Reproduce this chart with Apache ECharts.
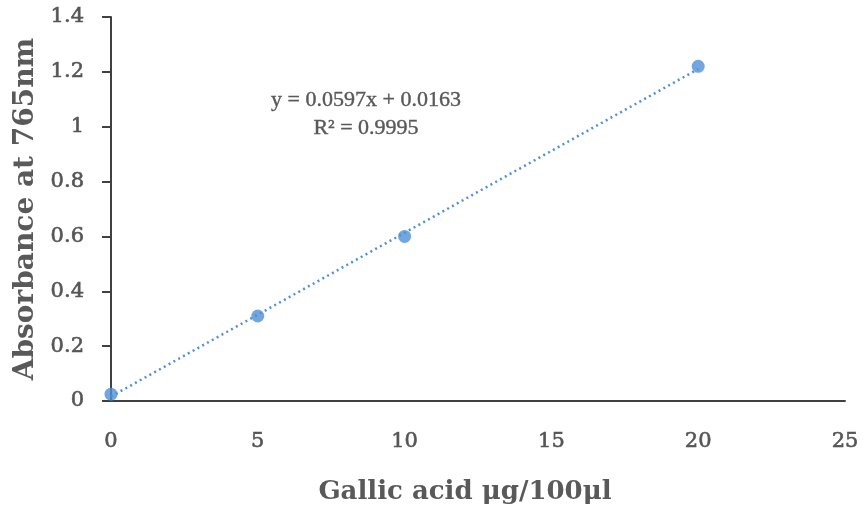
<!DOCTYPE html>
<html>
<head>
<meta charset="utf-8">
<script src="https://cdn.jsdelivr.net/npm/echarts@6/dist/echarts.min.js"></script>
<style>html,body{margin:0;padding:0;background:#fff;}#c{width:863px;height:516px;}</style>
</head>
<body>
<div id="c"></div>
<script>
const concentrations = [0, 5, 10, 20];
const absorbance = [0.025, 0.31, 0.6, 1.22];
const trendX = [0, 20];
const trendY = [0.0163, 1.2103];
const equationLines = ['y = 0.0597x + 0.0163', 'R² = 0.9995'];
const xTitle = 'Gallic acid μg/100μl';
const yTitle = 'Absorbance at 765nm';

const SERIF = '"Liberation Serif", serif';
const WIDE = '"DejaVu Serif", serif';
const GREY = '#595959';
const BLUE = '#4F90D6';

const tickText = { fontFamily: WIDE, fontSize: 21, color: '#555555', textBorderColor: '#555555', textBorderWidth: 0.6 };

const chart = echarts.init(document.getElementById('c'));
chart.setOption({
  animation: false,
  backgroundColor: '#fff',
  grid: { left: 111, right: 18, top: 17, bottom: 115, outerBoundsMode: 'none', containLabel: false },
  xAxis: {
    type: 'value', min: 0, max: 25, interval: 5,
    name: xTitle, nameLocation: 'middle', nameGap: 78,
    nameTextStyle: { fontFamily: WIDE, fontSize: 26, fontWeight: 'bold', color: GREY, padding: [0, 26, 0, 0] },
    axisLine: { show: true, onZero: false, lineStyle: { color: '#404040', width: 2 } },
    axisTick: { show: false },
    splitLine: { show: false },
    axisLabel: Object.assign({ margin: 30 }, tickText)
  },
  yAxis: {
    type: 'value', min: 0, max: 1.4, interval: 0.2,
    name: yTitle, nameLocation: 'middle', nameGap: 67,
    nameTextStyle: { fontFamily: WIDE, fontSize: 28, fontWeight: 'bold', color: GREY },
    axisLine: { show: true, lineStyle: { color: '#404040', width: 2 } },
    axisTick: { show: true, inside: false, length: 9, lineStyle: { color: '#404040', width: 2 } },
    splitLine: { show: false },
    axisLabel: Object.assign({ margin: 27, formatter: v => String(+v.toFixed(1)) }, tickText)
  },
  series: [
    {
      type: 'line',
      data: trendX.map((x, i) => [x, trendY[i]]),
      showSymbol: false, symbol: 'none',
      lineStyle: { color: BLUE, width: 2.5, type: [2, 3.5] },
      z: 2
    },
    {
      type: 'scatter',
      data: concentrations.map((x, i) => [x, absorbance[i]]),
      symbol: 'circle', symbolSize: 13,
      itemStyle: { color: BLUE },
      z: 3
    }
  ],
  graphic: [
    {
      type: 'text', x: 366, y: 86,
      style: {
        text: equationLines.join('\n'),
        align: 'center', verticalAlign: 'top',
        font: '22px ' + SERIF, fill: GREY, lineHeight: 28,
        stroke: GREY, lineWidth: 0.4
      }
    }
  ]
});
</script>
</body>
</html>
